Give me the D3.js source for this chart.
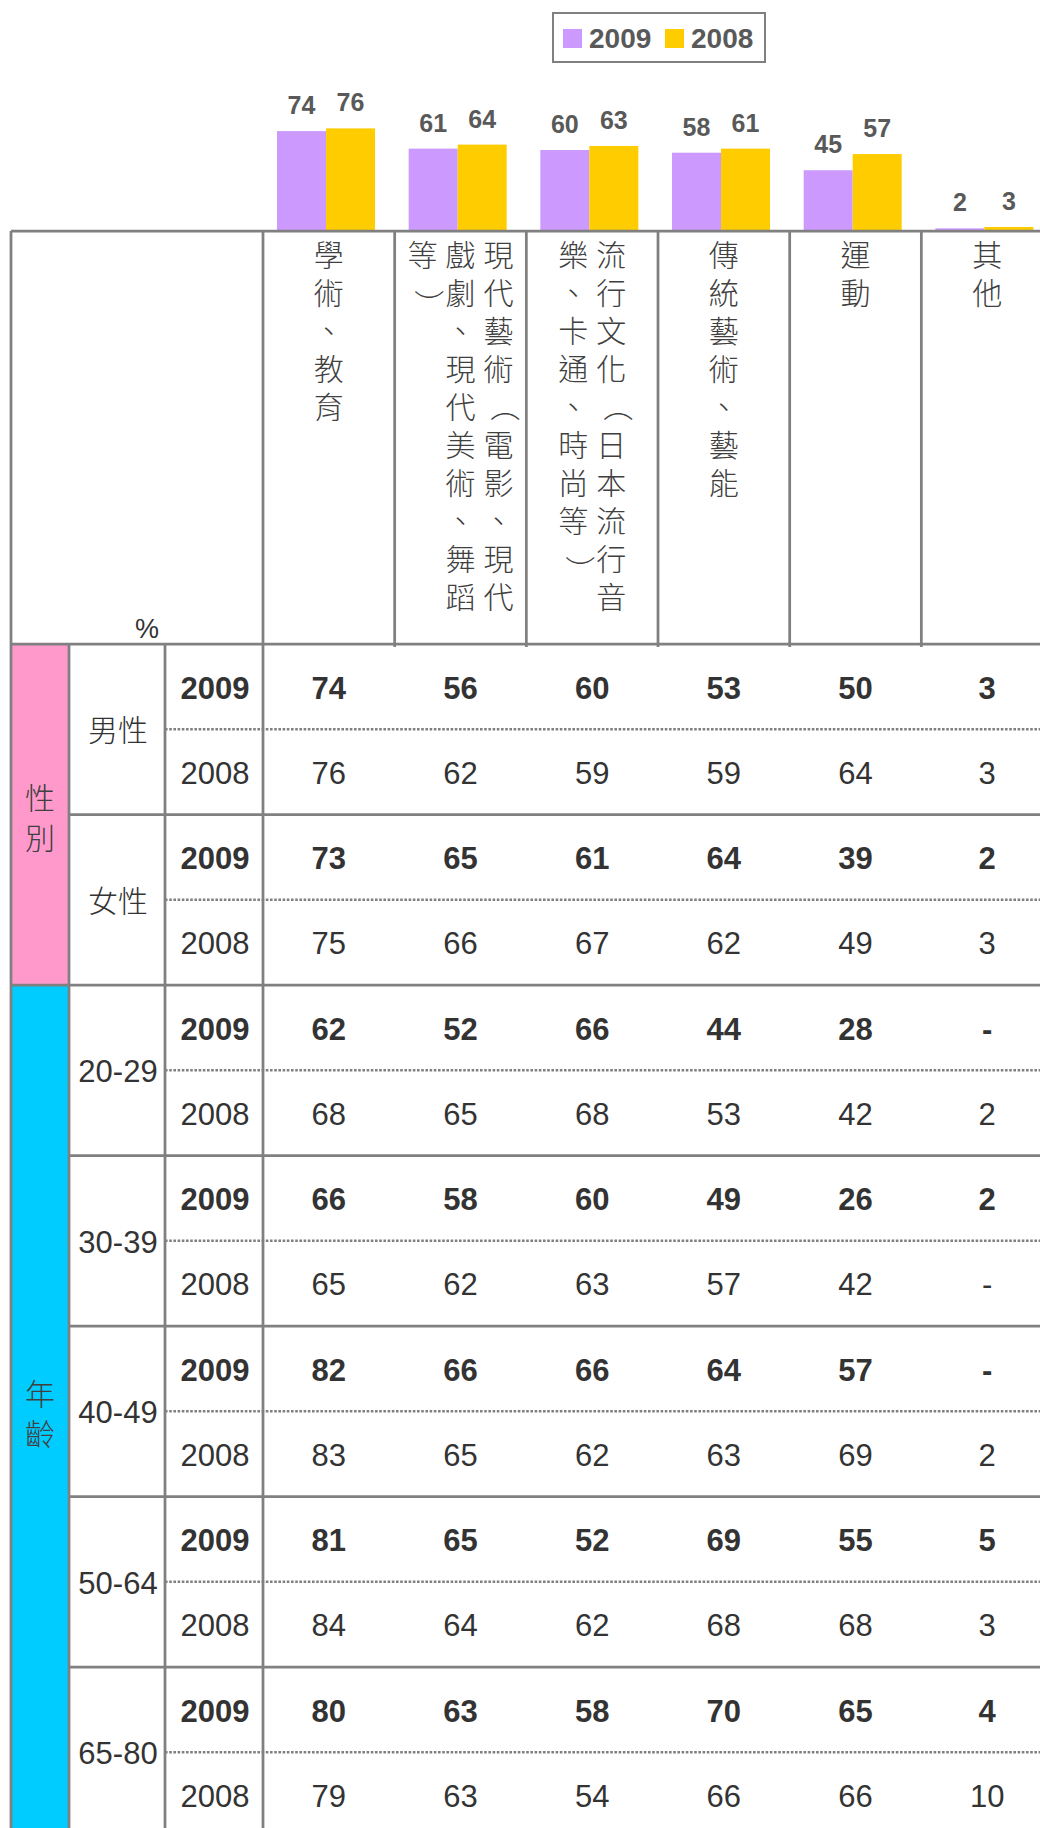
<!DOCTYPE html>
<html>
<head>
<meta charset="utf-8">
<script src="https://cdn.jsdelivr.net/npm/d3@7"></script>
<style>
  body { margin: 0; background: #fff; }
</style>
</head>
<body>
<div id="chart"></div>
<script>
// categories (column headers)
const categories = [
  "學術、教育",
  "現代藝術（電影、現代戲劇、現代美術、舞蹈等）",
  "流行文化（日本流行音樂、卡通、時尚等）",
  "傳統藝術、藝能",
  "運動",
  "其他"
];
const years = ["2009", "2008"];

// overall values shown as bars
const total2009 = [74, 61, 60, 58, 45, 2];
const total2008 = [76, 64, 63, 61, 57, 3];

// table groups
const sections = ["性別", "年齡"];
const groups = ["男性", "女性", "20-29", "30-39", "40-49", "50-64", "65-80"];
const groupSection = ["性別", "性別", "年齡", "年齡", "年齡", "年齡", "年齡"];

// table values, null = "-"
const rows2009 = [
  [74, 56, 60, 53, 50, 3],
  [73, 65, 61, 64, 39, 2],
  [62, 52, 66, 44, 28, null],
  [66, 58, 60, 49, 26, 2],
  [82, 66, 66, 64, 57, null],
  [81, 65, 52, 69, 55, 5],
  [80, 63, 58, 70, 65, 4]
];
const rows2008 = [
  [76, 62, 59, 59, 64, 3],
  [75, 66, 67, 62, 49, 3],
  [68, 65, 68, 53, 42, 2],
  [65, 62, 63, 57, 42, null],
  [83, 65, 62, 63, 69, 2],
  [84, 64, 62, 68, 68, 3],
  [79, 63, 54, 66, 66, 10]
];

const colors = { "2009": "#CC99FF", "2008": "#FFCC00" };
const sectionColors = { "性別": "#FF99CC", "年齡": "#00CCFF" };

const LATIN = "'Liberation Sans', Arial, sans-serif";
const CJK = "'Noto Sans CJK TC', 'Noto Sans CJK SC', sans-serif";
const GRID = "#808080";
const GW = 2.75;

const W = 1040, H = 1828;
const svg = d3.select("#chart")
  .append("svg")
    .attr("width", W)
    .attr("height", H);

// table geometry
const tableLeft = 11, secRight = 69, grpRight = 165, yearRight = 263;
const tableTop = 231, headBottom = 644, groupH = 170.5;

// scales
const x = d3.scaleBand()
  .domain(categories)
  .range([yearRight, yearRight + 6 * 131.67]);

const xYear = d3.scaleBand()
  .domain(years)
  .range([14, 112]);

const y = d3.scaleLinear()
  .domain([0, 100])
  .range([tableTop, 96]);

const rowY = d3.scaleBand()
  .domain(groups)
  .range([headBottom, headBottom + groups.length * groupH]);

// bars
const barData = [];
categories.forEach((c, i) => {
  barData.push({ cat: c, year: "2009", value: total2009[i] });
  barData.push({ cat: c, year: "2008", value: total2008[i] });
});

svg.append("g").selectAll("rect")
  .data(barData)
  .enter()
  .append("rect")
    .attr("x", d => x(d.cat) + xYear(d.year))
    .attr("y", d => y(d.value))
    .attr("width", xYear.bandwidth())
    .attr("height", d => y(0) - y(d.value))
    .attr("fill", d => colors[d.year]);

svg.append("g").selectAll("text")
  .data(barData)
  .enter()
  .append("text")
    .attr("x", d => x(d.cat) + xYear(d.year) + xYear.bandwidth() / 2)
    .attr("y", d => y(d.value) - 17)
    .attr("text-anchor", "middle")
    .attr("font-family", LATIN)
    .attr("font-weight", "bold")
    .attr("font-size", "25px")
    .attr("fill", "#595959")
    .text(d => d.value);

// legend
const legend = svg.append("g");
legend.append("rect")
  .attr("x", 553).attr("y", 13)
  .attr("width", 212).attr("height", 49)
  .attr("fill", "#fff")
  .attr("stroke", GRID)
  .attr("stroke-width", 2);
years.forEach((yr, i) => {
  const lx = 563 + i * 102;
  legend.append("rect")
    .attr("x", lx).attr("y", 29)
    .attr("width", 19).attr("height", 19)
    .attr("fill", colors[yr]);
  legend.append("text")
    .attr("x", lx + 26).attr("y", 48)
    .attr("font-family", LATIN)
    .attr("font-weight", "bold")
    .attr("font-size", "28px")
    .attr("fill", "#595959")
    .text(yr);
});

// section color blocks
sections.forEach(s => {
  const idx = groups.filter((g, i) => groupSection[i] === s);
  const top = rowY(idx[0]);
  const bottom = rowY(idx[idx.length - 1]) + groupH;
  svg.append("rect")
    .attr("x", tableLeft).attr("y", top)
    .attr("width", secRight - tableLeft).attr("height", bottom - top)
    .attr("fill", sectionColors[s]);
  const chars = Array.from(s);
  const cy = (top + bottom) / 2;
  chars.forEach((ch, j) => {
    svg.append("text")
      .attr("x", (tableLeft + secRight) / 2)
      .attr("y", cy + (j - (chars.length - 1) / 2) * 40 + 14)
      .attr("text-anchor", "middle")
      .attr("font-family", CJK)
      .attr("font-weight", 300)
      .attr("font-size", "30px")
      .attr("fill", "#404040")
      .text(ch);
  });
});

// dotted separators between 2009 / 2008 rows
svg.append("g").selectAll("line")
  .data(groups)
  .enter()
  .append("line")
    .attr("x1", grpRight).attr("x2", W + 20)
    .attr("y1", d => rowY(d) + groupH / 2)
    .attr("y2", d => rowY(d) + groupH / 2)
    .attr("stroke", GRID)
    .attr("stroke-width", 2.5)
    .attr("stroke-dasharray", "2.6,1.6");

// grid lines
const grid = svg.append("g")
  .attr("stroke", GRID)
  .attr("stroke-width", GW);

// horizontal
grid.append("line").attr("x1", tableLeft).attr("x2", W + 20).attr("y1", tableTop).attr("y2", tableTop);
grid.append("line").attr("x1", tableLeft).attr("x2", W + 20).attr("y1", headBottom).attr("y2", headBottom);
groups.forEach((g, i) => {
  if (i === 0) return;
  const startX = groupSection[i] !== groupSection[i - 1] ? tableLeft : secRight;
  grid.append("line")
    .attr("x1", startX).attr("x2", W + 20)
    .attr("y1", rowY(g)).attr("y2", rowY(g));
});

// vertical
grid.append("line").attr("x1", tableLeft).attr("x2", tableLeft).attr("y1", tableTop).attr("y2", H + 10);
[secRight, grpRight].forEach(vx => {
  grid.append("line").attr("x1", vx).attr("x2", vx).attr("y1", headBottom).attr("y2", H + 10);
});
grid.append("line").attr("x1", yearRight).attr("x2", yearRight).attr("y1", tableTop).attr("y2", H + 10);
categories.forEach((c, i) => {
  if (i === 0) return;
  grid.append("line")
    .attr("x1", x(c)).attr("x2", x(c))
    .attr("y1", tableTop).attr("y2", headBottom + 3);
});

// header corner
svg.append("text")
  .attr("x", 147).attr("y", 638)
  .attr("text-anchor", "middle")
  .attr("font-family", LATIN)
  .attr("font-size", "27px")
  .attr("fill", "#333")
  .text("%");

// vertical header labels, columns right to left, 10 chars per column
const perCol = 10, pitch = 38, fs = 30;
categories.forEach(cat => {
  const chars = Array.from(cat);
  const cols = d3.range(Math.ceil(chars.length / perCol))
    .map(k => chars.slice(k * perCol, k * perCol + perCol));
  const cx = x(cat) + x.bandwidth() / 2;
  cols.forEach((col, k) => {
    const colX = cx + ((cols.length - 1) / 2 - k) * pitch;
    col.forEach((ch, j) => {
      const cy = 266 + j * pitch - fs * 0.38;
      const open = ch === "（", close = ch === "）";
      // brackets turn sideways in vertical text
      const g = svg.append("g")
        .attr("transform", (open || close)
          ? `translate(${colX},${cy}) rotate(90)`
          : `translate(${colX},${cy})`);
      g.append("text")
        .attr("x", close ? 12 : 0)
        .attr("y", (open || close) ? fs * 0.38 - 7 : fs * 0.38)
        .attr("text-anchor", "middle")
        .attr("font-family", CJK)
        .attr("font-weight", 300)
        .attr("font-size", fs + "px")
        .attr("fill", "#404040")
        .text(ch);
    });
  });
});

// group labels
svg.append("g").selectAll("text")
  .data(groups)
  .enter()
  .append("text")
    .attr("x", (secRight + grpRight) / 2 + 1)
    .attr("y", d => rowY(d) + groupH / 2 + 12)
    .attr("text-anchor", "middle")
    .attr("font-family", d => /\d/.test(d) ? LATIN : CJK)
    .attr("font-weight", d => /\d/.test(d) ? 400 : 300)
    .attr("font-size", d => /\d/.test(d) ? "31px" : "30px")
    .attr("fill", "#333")
    .text(d => d);

// year labels and values
const cellRows = [];
groups.forEach((g, gi) => {
  cellRows.push({ group: g, year: "2009", vals: rows2009[gi] });
  cellRows.push({ group: g, year: "2008", vals: rows2008[gi] });
});

const rowG = svg.append("g").selectAll("g")
  .data(cellRows)
  .enter()
  .append("g")
    .attr("transform", d => `translate(0, ${rowY(d.group) + (d.year === "2009" ? 0 : groupH / 2) + groupH / 4 + 12})`)
    .attr("font-family", LATIN)
    .attr("font-size", "31px")
    .attr("font-weight", d => d.year === "2009" ? "bold" : "normal")
    .attr("fill", "#333");

rowG.append("text")
  .attr("x", (grpRight + yearRight) / 2 + 1)
  .attr("text-anchor", "middle")
  .text(d => d.year);

rowG.selectAll("text.val")
  .data(d => d.vals.map((v, i) => ({ cat: categories[i], v })))
  .enter()
  .append("text")
    .attr("class", "val")
    .attr("x", d => x(d.cat) + x.bandwidth() / 2)
    .attr("text-anchor", "middle")
    .text(d => d.v === null ? "-" : d.v);
</script>
</body>
</html>
